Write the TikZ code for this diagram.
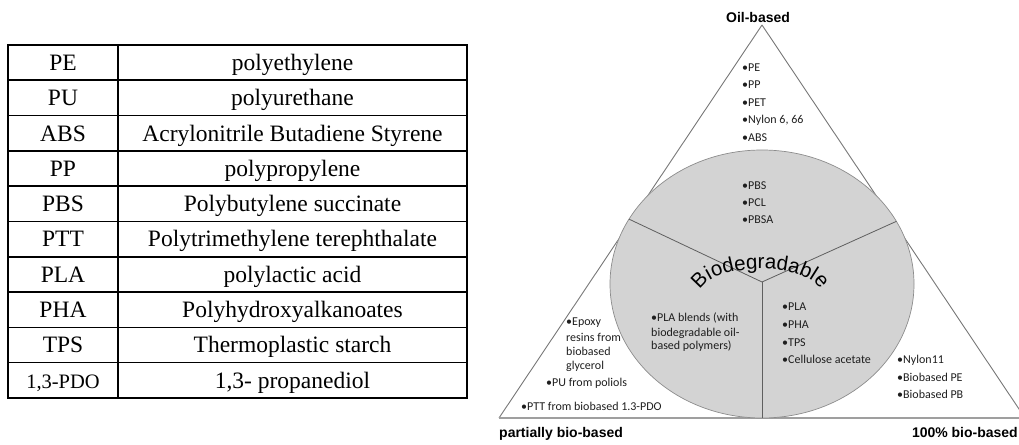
\documentclass[tikz,border=0pt]{standalone}
\usepackage{fontspec}
\setmainfont{Liberation Serif}
\newfontfamily\labelfont{Liberation Sans}
\newfontfamily\listfont{Carlito}
\usetikzlibrary{shapes.geometric}
\usetikzlibrary{decorations.text}
\definecolor{bioGray}{HTML}{D3D3D3}
\definecolor{edgeGray}{HTML}{777777}
\definecolor{inkGray}{HTML}{1E1E1E}
\tikzset{
	cell/.style={
		draw,
		rectangle,
		line width=1.6pt,
		minimum height=35.3pt,
		inner sep=0pt,
		outer sep=0pt,
		text height=15.6pt,
		text depth=0pt,
		font=\fontsize{23.5}{26}\selectfont,
	},
	abbr/.style={cell, minimum width=110pt},
	full/.style={cell, minimum width=349pt},
	corner/.style={
		font=\labelfont\bfseries\fontsize{14}{16}\selectfont,
		inner sep=0pt,
	},
	item/.style={
		anchor=base west,
		inner sep=0pt,
		text=inkGray,
		font=\listfont\fontsize{12}{14}\selectfont,
	},
	side/.style={edgeGray, line width=0.9pt},
}

\begin{document}
\begin{tikzpicture}[x=1pt,y=1pt]
	\useasboundingbox (0,0) rectangle (1019,444);

	\node[abbr] (abbPE)  at (63,381.35) {PE};
	\node[full] (defPE)  at (292.5,381.35) {polyethylene};
	\node[abbr] (abbPU)  at (63,346.05) {PU};
	\node[full] (defPU)  at (292.5,346.05) {polyurethane};
	\node[abbr] (abbABS) at (63,310.75) {ABS};
	\node[full] (defABS) at (292.5,310.75) {Acrylonitrile Butadiene Styrene};
	\node[abbr] (abbPP)  at (63,275.45) {PP};
	\node[full] (defPP)  at (292.5,275.45) {polypropylene};
	\node[abbr] (abbPBS) at (63,240.15) {PBS};
	\node[full] (defPBS) at (292.5,240.15) {Polybutylene succinate};
	\node[abbr] (abbPTT) at (63,204.85) {PTT};
	\node[full] (defPTT) at (292.5,204.85) {Polytrimethylene terephthalate};
	\node[abbr] (abbPLA) at (63,169.55) {PLA};
	\node[full] (defPLA) at (292.5,169.55) {polylactic acid};
	\node[abbr] (abbPHA) at (63,134.25) {PHA};
	\node[full] (defPHA) at (292.5,134.25) {Polyhydroxyalkanoates};
	\node[abbr] (abbTPS) at (63,98.95) {TPS};
	\node[full] (defTPS) at (292.5,98.95) {Thermoplastic starch};
	\node[abbr, font=\fontsize{20.5}{24}\selectfont] (abbPDO) at (63,63.65) {1,3-PDO};
	\node[full] (defPDO) at (292.5,63.65) {1,3- propanediol};

	\coordinate (top) at (762,419);
	\coordinate (left) at (499,26);
	\coordinate (right) at (1025,26);
	\draw[side] (top) -- (right);
	\draw[side] (top) -- (left);
	\draw[side, gray!75, line width=1.3pt] (left) -- (right);

	\node[ellipse, draw=gray!90, fill=bioGray, line width=0.7pt,
		minimum width=304pt, minimum height=268pt, inner sep=0pt, outer sep=0pt] (bio) at (762,160) {};
	\coordinate (hub) at (762,162);
	\draw[edgeGray!80!black, line width=0.8pt] (bio.154.4) -- (hub) -- (bio.25.6);
	\draw[edgeGray!80!black, line width=0.8pt] (hub) -- (bio.south);

	\path[decorate, decoration={text along path, text align=center,
		text={|\labelfont\fontsize{20.5}{22}\selectfont|Biodegradable}}]
		(700,151) arc[start angle=180, end angle=0, x radius=60, y radius=24];

	\node[corner, anchor=base] (oil) at (758,421) {Oil-based};
	\node[corner, anchor=base west] (partial) at (499,6) {partially bio-based};
	\node[corner, anchor=base east] (full) at (1018,6) {100\% bio-based};

	\node[item] (pe)    at (742,372) {•PE};
	\node[item] (pp)    at (742,355) {•PP};
	\node[item] (pet)   at (742,337) {•PET};
	\node[item] (nylon) at (742,320) {•Nylon 6, 66};
	\node[item] (abs)   at (742,302) {•ABS};

	\node[item] (pbs)  at (742,254) {•PBS};
	\node[item] (pcl)  at (742,237) {•PCL};
	\node[item] (pbsa) at (742,220) {•PBSA};

	\node[item] (blendA) at (651,122) {•PLA blends (with};
	\node[item] (blendB) at (651,107) {biodegradable oil-};
	\node[item] (blendC) at (651,94)  {based polymers)};

	\node[item] (pla)  at (782,133) {•PLA};
	\node[item] (pha)  at (782,115) {•PHA};
	\node[item] (tps)  at (782,97)  {•TPS};
	\node[item] (cell) at (782,80)  {•Cellulose acetate};

	\node[item] (nyl11) at (897,80) {•Nylon11};
	\node[item] (bioPE) at (897,62) {•Biobased PE};
	\node[item] (bioPB) at (897,45) {•Biobased PB};

	\node[item] (epoxyA) at (566,118) {•Epoxy};
	\node[item] (epoxyB) at (566,102) {resins from};
	\node[item] (epoxyC) at (566,88)  {biobased};
	\node[item] (epoxyD) at (566,74)  {glycerol};
	\node[item] (pu)     at (546,57)  {•PU from poliols};
	\node[item] (ptt)    at (521,33)  {•PTT from biobased 1.3-PDO};
\end{tikzpicture}
\end{document}
